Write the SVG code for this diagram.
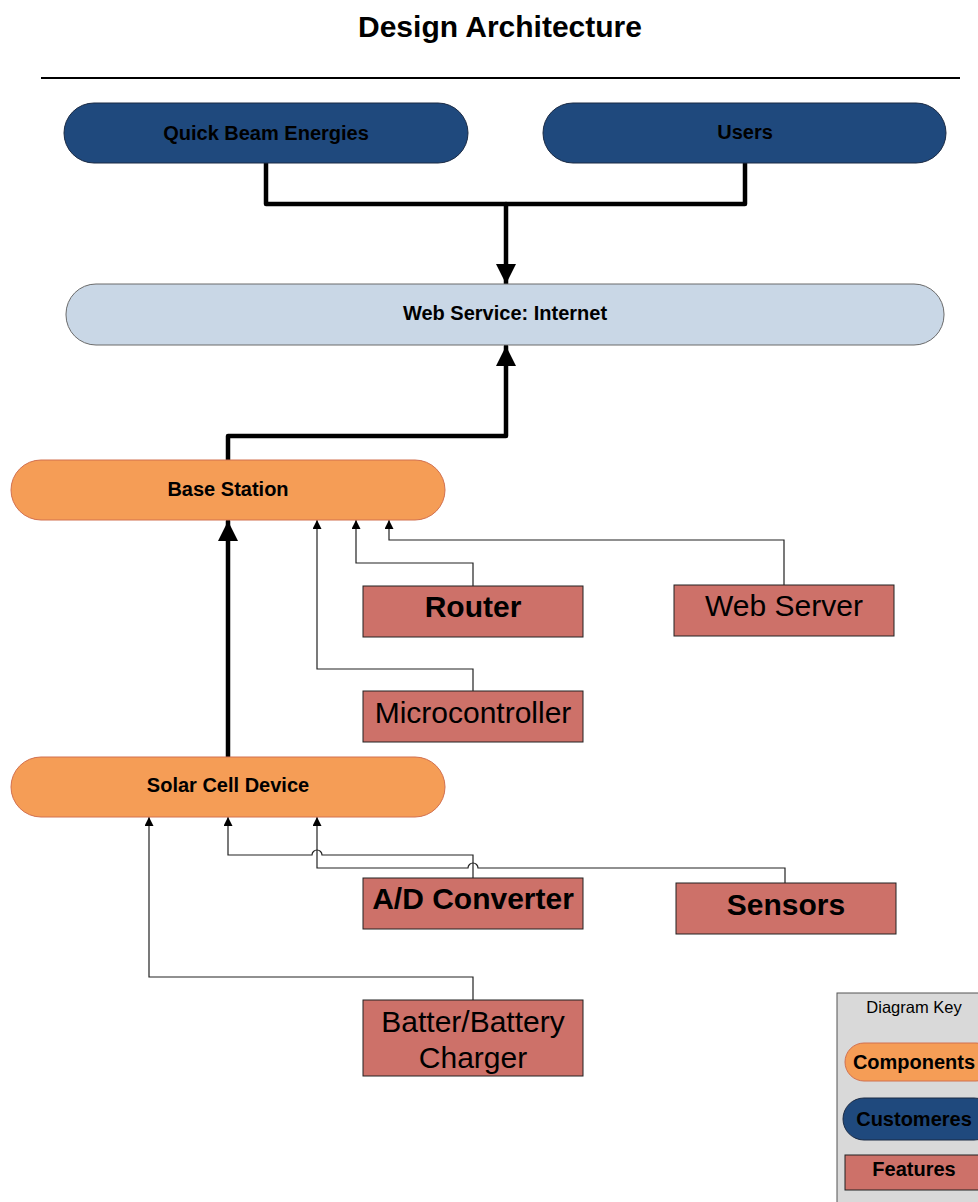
<svg xmlns="http://www.w3.org/2000/svg" width="978" height="1202" viewBox="0 0 978 1202">
<style>
text{font-family:"Liberation Sans",Arial,sans-serif;fill:#000;text-anchor:middle}
.b{font-weight:bold}
.pt{font-size:20px;font-weight:bold}
.ft{font-size:30px}
.navy{fill:#1f497d;stroke:#1a2a44;stroke-width:1}
.orange{fill:#f59d56;stroke:#d2704f;stroke-width:1}
.light{fill:#c9d7e6;stroke:#6b6b6b;stroke-width:1}
.feat{fill:#cd7169;stroke:#222;stroke-width:1}
.thick{fill:none;stroke:#000;stroke-width:4.5;stroke-linejoin:round;stroke-linecap:round}
.thin{fill:none;stroke:#222;stroke-width:1.2}
</style>
<defs>
<marker id="big" markerUnits="userSpaceOnUse" viewBox="0 0 20 20" refX="20" refY="10" markerWidth="20" markerHeight="20" orient="auto">
<path d="M0,0 L20,10 L0,20 Z" fill="#000"/>
</marker>
<marker id="small" markerUnits="userSpaceOnUse" viewBox="0 0 10 10" refX="10" refY="5" markerWidth="10" markerHeight="9" orient="auto">
<path d="M0,0 L10,5 L0,10 Z" fill="#000"/>
</marker>
</defs>
<rect width="978" height="1202" fill="#fff"/>
<text x="500" y="37" class="b" font-size="30">Design Architecture</text>
<line x1="41" y1="78" x2="960" y2="78" stroke="#000" stroke-width="2"/>

<g id="connectors">
<path class="thick" d="M266,163 V204 H745 V163"/>
<path class="thick" d="M506,204 V284" marker-end="url(#big)"/>
<path class="thick" d="M228,460 V436 H506 V346" marker-end="url(#big)"/>
<path class="thick" d="M228,757 V521" marker-end="url(#big)"/>
<path class="thin" d="M473,586 V563 H356 V520" marker-end="url(#small)"/>
<path class="thin" d="M784,585 V540 H389 V520" marker-end="url(#small)"/>
<path class="thin" d="M473,691 V669 H317 V520" marker-end="url(#small)"/>
<path class="thin" d="M473,1000 V977 H149 V817" marker-end="url(#small)"/>
<path class="thin" d="M473,878 V855 H322 A5,5 0 0 0 312,855 H228 V817" marker-end="url(#small)"/>
<path class="thin" d="M785,883 V868 H478 A5,5 0 0 0 468,868 H317 V817" marker-end="url(#small)"/>
</g>

<g id="quick-beam"><rect class="navy" x="64" y="103" width="404" height="60" rx="30"/><text x="266" y="140" class="pt">Quick Beam Energies</text></g>
<g id="users"><rect class="navy" x="543" y="103" width="403" height="60" rx="30"/><text x="745" y="139" class="pt">Users</text></g>
<g id="web-service"><rect class="light" x="66" y="284" width="878" height="61" rx="30"/><text x="505" y="320" class="pt">Web Service: Internet</text></g>
<g id="base-station"><rect class="orange" x="11" y="460" width="434" height="60" rx="30"/><text x="228" y="496" class="pt">Base Station</text></g>
<g id="solar-cell"><rect class="orange" x="11" y="757" width="434" height="60" rx="30"/><text x="228" y="792" class="pt">Solar Cell Device</text></g>
<g id="router"><rect class="feat" x="363" y="586" width="220" height="51"/><text x="473" y="617" class="ft b">Router</text></g>
<g id="web-server"><rect class="feat" x="674" y="585" width="220" height="51"/><text x="784" y="616" class="ft">Web Server</text></g>
<g id="microcontroller"><rect class="feat" x="363" y="691" width="220" height="51"/><text x="473" y="723" class="ft">Microcontroller</text></g>
<g id="ad-converter"><rect class="feat" x="363" y="878" width="220" height="51"/><text x="473" y="909" class="ft b">A/D Converter</text></g>
<g id="sensors"><rect class="feat" x="676" y="883" width="220" height="51"/><text x="786" y="915" class="ft b">Sensors</text></g>
<g id="battery"><rect class="feat" x="363" y="1000" width="220" height="76"/><text x="473" y="1032" class="ft">Batter/Battery</text><text x="473" y="1068" class="ft">Charger</text></g>

<g id="legend">
<rect x="837" y="993" width="160" height="220" fill="#d9d9d9" stroke="#555" stroke-width="1"/>
<text x="914" y="1013" font-size="16.5">Diagram Key</text>
<rect class="orange" x="845" y="1043" width="150" height="38" rx="19"/>
<text x="914" y="1069" class="pt">Components</text>
<rect class="navy" x="843" y="1098" width="152" height="42" rx="21"/>
<text x="914" y="1126" class="pt">Customeres</text>
<rect class="feat" x="845" y="1155" width="150" height="35"/>
<text x="914" y="1176" class="pt">Features</text>
</g>
</svg>
